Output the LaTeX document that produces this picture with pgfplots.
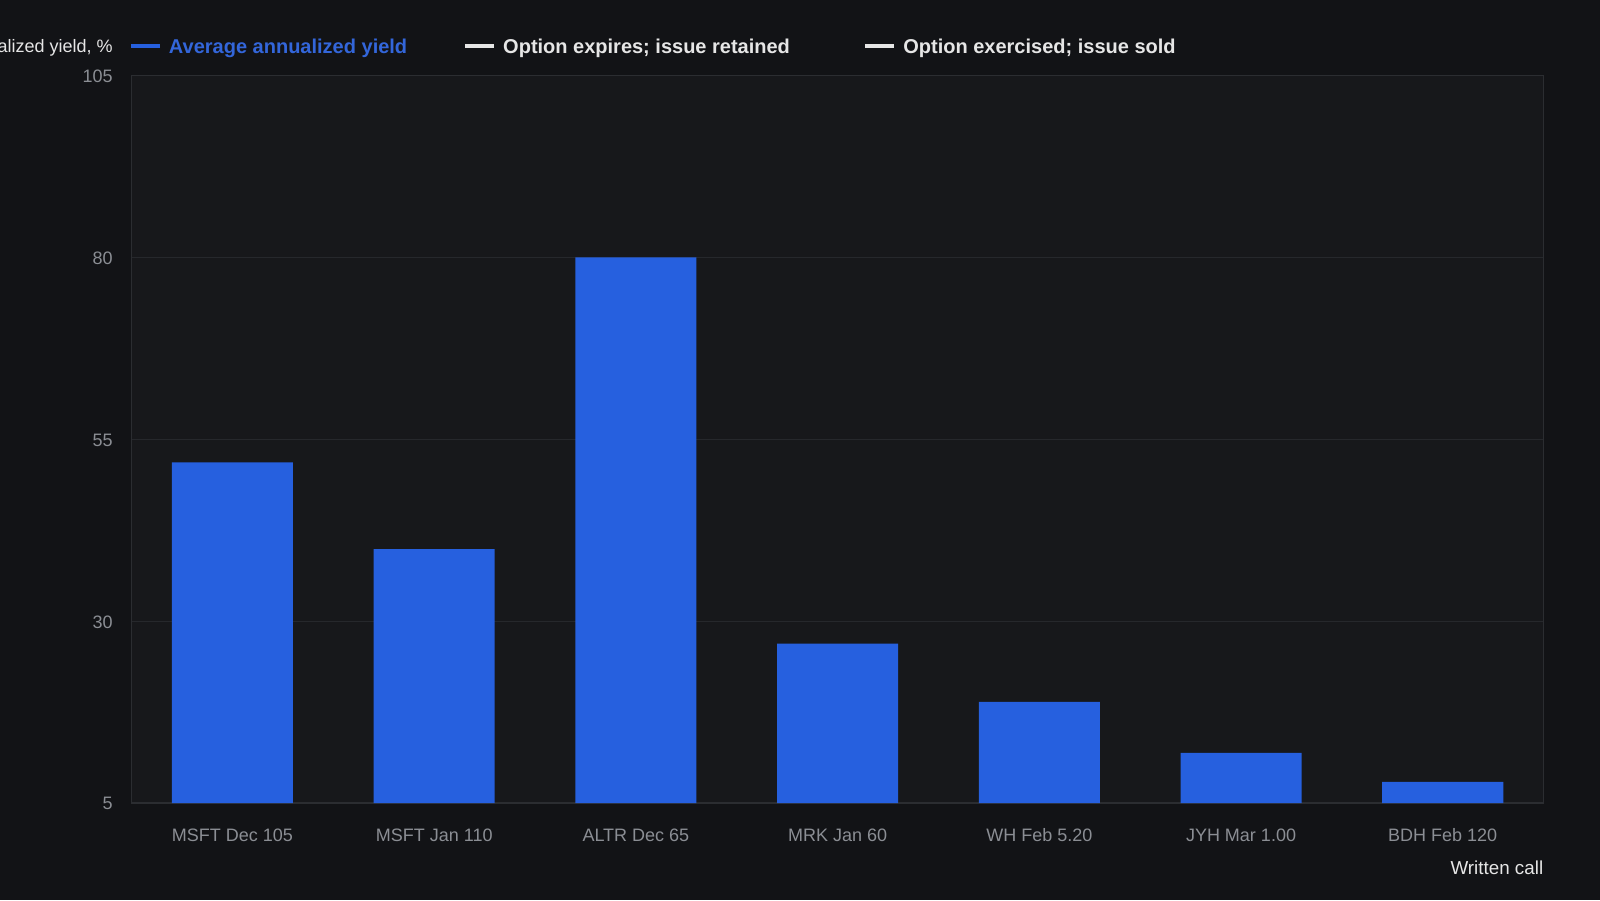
\documentclass[border=0pt]{standalone}
\usepackage{fontspec}
\setmainfont{Liberation Sans}
\usepackage{pgfplots}
\pgfplotsset{compat=1.18}

\definecolor{bgcol}{HTML}{121316}
\definecolor{plotbg}{HTML}{17181B}
\definecolor{gridcol}{HTML}{26282C}
\definecolor{axcol}{HTML}{2B2D31}
\definecolor{barblue}{HTML}{2660DF}
\definecolor{legblue}{HTML}{3366DA}
\definecolor{ticklab}{HTML}{8B8E94}
\definecolor{lighttext}{HTML}{E6E6E6}

\begin{document}
\begin{tikzpicture}
\path[use as bounding box, fill=bgcol] (-65.8pt,-48.5pt) rectangle (734.2pt,401.5pt);
\begin{axis}[
    scale only axis,
    width=706pt, height=363.8pt,
    clip mode=individual,
    axis background/.style={fill=plotbg},
    axis line style={axcol, line width=0.6pt},
    xmin=-0.5, xmax=6.5,
    ymin=5, ymax=105,
    ytick={5,30,55,80,105},
    xtick={0,1,2,3,4,5,6},
    xticklabels={MSFT Dec 105, MSFT Jan 110, ALTR Dec 65, MRK Jan 60, WH Feb 5.20, JYH Mar 1.00, BDH Feb 120},
    major tick length=0pt,
    ymajorgrids, grid style={gridcol, line width=0.6pt},
    /pgf/number format/assume math mode=true,
    ticklabel style={font=\fontsize{9}{10}\selectfont, text=ticklab},
    yticklabel style={inner sep=0pt, xshift=-9.3pt, yshift=-0.4pt},
    xticklabel style={anchor=base, inner sep=0pt, yshift=-19pt},
    legend columns=3,
    legend style={draw=none, fill=none, at={(rel axis cs:0,1)}, anchor=south west,
        xshift=-1.5pt, yshift=7pt, inner sep=0pt, font=\fontsize{10}{12}\selectfont\bfseries,
        text=lighttext,
        /tikz/every odd column/.append style={column sep=1.7pt},
        /tikz/every even column/.append style={column sep=26pt}},
    legend image code/.code={\draw[#1, line width=2pt] (0pt,1pt) -- (14.3pt,1pt);},
]
\addplot[ybar, bar width=0.6, bar shift=0pt, fill=barblue, draw=none, forget plot]
    coordinates {(0,51.8) (1,39.9) (2,80) (3,26.9) (4,18.9) (5,11.9) (6,7.9)};
\addlegendimage{barblue}
\addlegendentry{\textcolor{legblue}{Average annualized yield}}
\addlegendimage{lighttext}
\addlegendentry{Option expires; issue retained\kern8.7pt}
\addlegendimage{lighttext}
\addlegendentry{Option exercised; issue sold}
\node[anchor=base east, inner sep=0pt, text=lighttext, font=\fontsize{9}{11}\selectfont]
    at ([xshift=-9.3pt,yshift=11.2pt]rel axis cs:0,1) {Annualized yield, \%};
\node[anchor=base east, inner sep=0pt, text=lighttext, font=\fontsize{9.4}{11}\selectfont]
    at ([yshift=-35.5pt]rel axis cs:1,0) {Written call};
\end{axis}
\end{tikzpicture}
\end{document}
